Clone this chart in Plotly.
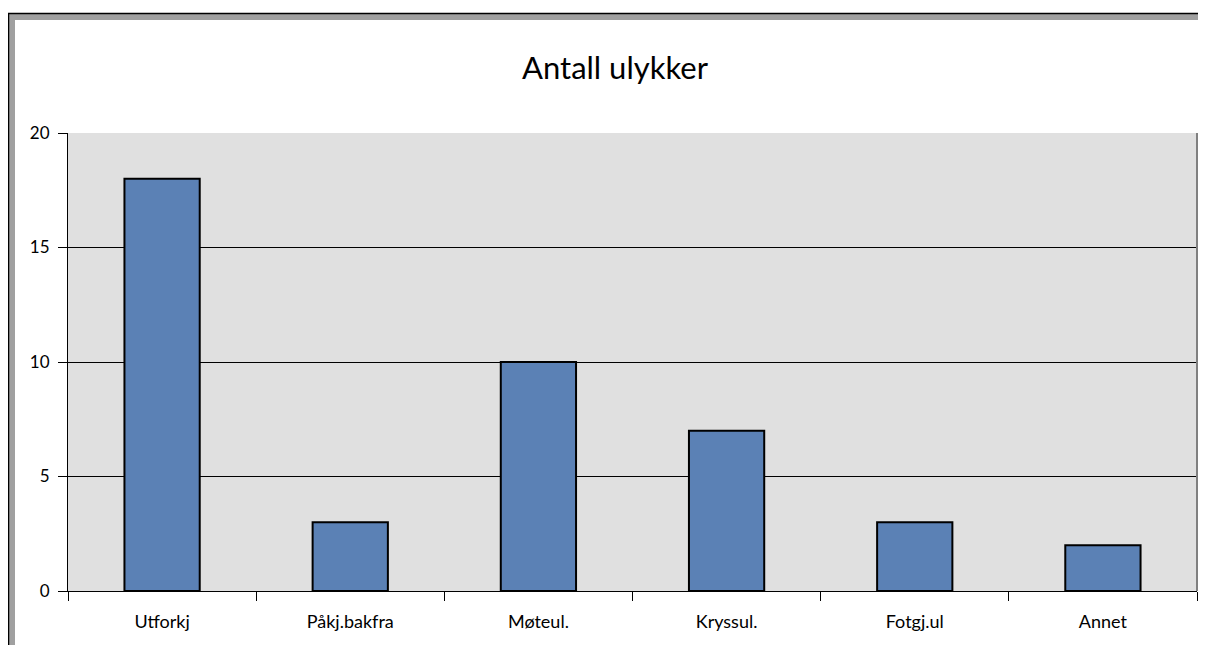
import plotly.graph_objects as go

categories = ["Utforkj", "Påkj.bakfra", "Møteul.", "Kryssul.", "Fotgj.ul", "Annet"]
values = [18, 3, 10, 7, 3, 2]
y_ticks = [0, 5, 10, 15, 20]

W, H = 1206, 645
OFF = 8  # page body margin offset
L, R, T, B = 68 - OFF, 1197 - OFF, 133 - OFF, 591 - OFF
pw, ph = R - L, B - T

def px(x):
    return (x - OFF - L) / pw

def py(y):
    return (B - (y - OFF)) / ph

FONT = "Lato, 'Open Sans', sans-serif"

fig = go.Figure(go.Bar(
    x=categories, y=values,
    marker=dict(color="#5b81b5", line=dict(color="#000000", width=2)),
    width=0.4,
))

shapes = [
    # grey frame bands
    dict(type="rect", xref="paper", yref="paper", x0=px(9), x1=px(1230), y0=py(14), y1=py(20),
         fillcolor="#a0a0a0", line=dict(width=0), layer="above"),
    dict(type="rect", xref="paper", yref="paper", x0=px(9), x1=px(15), y0=py(14), y1=py(670),
         fillcolor="#a0a0a0", line=dict(width=0), layer="above"),
    # black outer lines
    dict(type="line", xref="paper", yref="paper", x0=px(8), x1=px(1230), y0=py(13.5), y1=py(13.5),
         line=dict(color="#000000", width=1.5), layer="above"),
    dict(type="line", xref="paper", yref="paper", x0=px(8.5), x1=px(8.5), y0=py(13), y1=py(670),
         line=dict(color="#000000", width=1.5), layer="above"),
    # plot area right border
    dict(type="line", xref="paper", yref="paper", x0=1, x1=1, y0=0, y1=1,
         line=dict(color="#808080", width=2), layer="above"),
]

fig.update_layout(
    width=W, height=H,
    margin=dict(l=L, r=W - R, t=T, b=H - B, pad=0),
    paper_bgcolor="#ffffff",
    plot_bgcolor="#e0e0e0",
    title=dict(text="Antall ulykker", x=(615 - OFF) / W, xanchor="center",
               y=1 - (68 - OFF) / H, yanchor="middle",
               font=dict(family=FONT, size=31, color="#000000")),
    font=dict(family=FONT, size=17, color="#000000"),
    showlegend=False,
    shapes=shapes,
    xaxis=dict(
        tickson="boundaries", ticks="outside", ticklen=9, tickcolor="#000000", tickwidth=1,
        showline=True, linecolor="#000000", linewidth=1,
        showgrid=False, tickfont=dict(size=18, family=FONT), ticklabelstandoff=14,
    ),
    yaxis=dict(
        range=[0, 20], tickvals=y_ticks, ticks="outside", ticklen=9, tickcolor="#000000",
        showline=True, linecolor="#000000", linewidth=1,
        showgrid=True, gridcolor="#000000", gridwidth=1, zeroline=False,
        tickfont=dict(size=17, family=FONT), ticklabelstandoff=5,
    ),
)

fig.write_html("out.html")
